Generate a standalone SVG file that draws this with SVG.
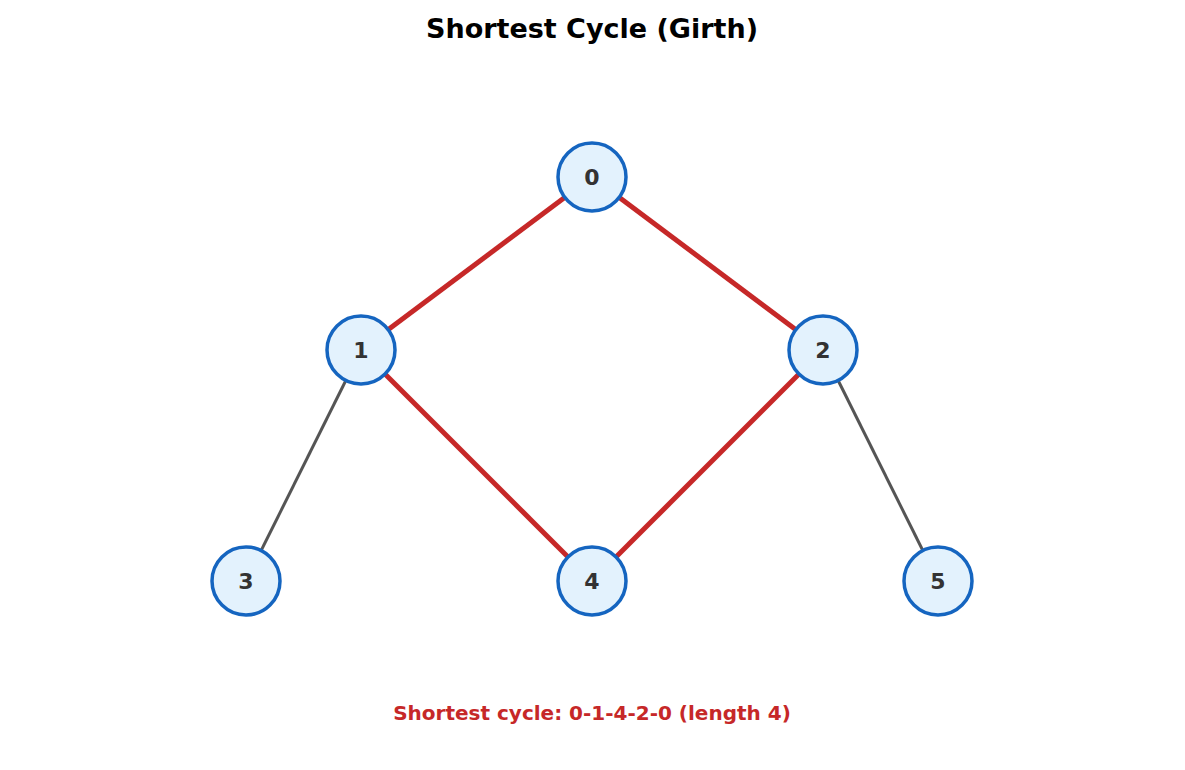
<svg xmlns="http://www.w3.org/2000/svg" width="1185" height="770" viewBox="0 0 1185 770">
<style>
.n{fill:#e3f2fd;stroke:#1565c0;stroke-width:3.5}
.t{font-family:"DejaVu Sans",sans-serif;font-weight:bold;font-size:22px;fill:#333;text-anchor:middle;dominant-baseline:central}
.r{stroke:#c62828;stroke-width:5}
.g{stroke:#555;stroke-width:3}
</style>
<rect width="1185" height="770" fill="#fff"/>
<text x="592" y="28" font-family="DejaVu Sans,sans-serif" font-weight="bold" font-size="27" text-anchor="middle" dominant-baseline="central">Shortest Cycle (Girth)</text>
<g id="edges">
<line class="r" x1="592" y1="177" x2="361" y2="350"/>
<line class="r" x1="592" y1="177" x2="823" y2="350"/>
<line class="r" x1="361" y1="350" x2="592" y2="581"/>
<line class="r" x1="823" y1="350" x2="592" y2="581"/>
<line class="g" x1="361" y1="350" x2="246" y2="581"/>
<line class="g" x1="823" y1="350" x2="938" y2="581"/>
</g>
<g id="n0"><circle class="n" cx="592" cy="177" r="34"/><text class="t" x="592" y="177">0</text></g>
<g id="n1"><circle class="n" cx="361" cy="350" r="34"/><text class="t" x="361" y="350">1</text></g>
<g id="n2"><circle class="n" cx="823" cy="350" r="34"/><text class="t" x="823" y="350">2</text></g>
<g id="n3"><circle class="n" cx="246" cy="581" r="34"/><text class="t" x="246" y="581">3</text></g>
<g id="n4"><circle class="n" cx="592" cy="581" r="34"/><text class="t" x="592" y="581">4</text></g>
<g id="n5"><circle class="n" cx="938" cy="581" r="34"/><text class="t" x="938" y="581">5</text></g>
<text x="592" y="713" font-family="DejaVu Sans,sans-serif" font-weight="bold" font-size="20" fill="#c62828" text-anchor="middle" dominant-baseline="central">Shortest cycle: 0-1-4-2-0 (length 4)</text>
</svg>
